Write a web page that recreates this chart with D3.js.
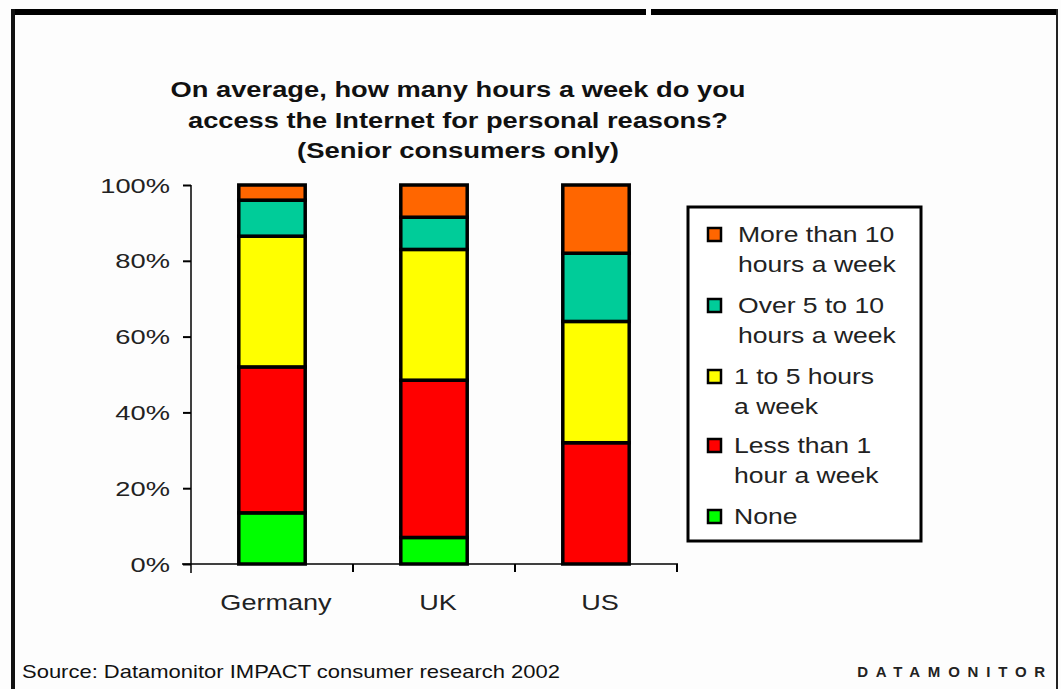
<!DOCTYPE html>
<html>
<head>
<meta charset="utf-8">
<script src="https://cdn.jsdelivr.net/npm/d3@7"></script>
<style>
  html, body { margin: 0; padding: 0; background: #fdfdfd; }
  svg { display: block; font-family: "Liberation Sans", Arial, sans-serif; }
</style>
</head>
<body>
<svg id="chart" width="1061" height="689"></svg>
<script>
const categories = ["Germany", "UK", "US"];
const seriesNames = ["None", "Less than 1 hour a week", "1 to 5 hours a week", "Over 5 to 10 hours a week", "More than 10 hours a week"];
const noneVals = [13.5, 7, 0];
const lessThan1 = [38.5, 41.5, 32];
const oneTo5 = [34.5, 34.5, 32];
const over5to10 = [9.5, 8.5, 18];
const moreThan10 = [4, 8.5, 18];
const seriesColors = ["#00ff00", "#ff0000", "#ffff00", "#00cc99", "#ff6600"];
const yTicks = [0, 20, 40, 60, 80, 100];
const titleLines = ["On average, how many hours a week do you", "access the Internet for personal reasons?", "(Senior consumers only)"];
const titleWidths = [575, 540, 322];
const legendItems = [
  {lines: ["More than 10", "hours a week"], s: 4, dx: 0},
  {lines: ["Over 5 to 10", "hours a week"], s: 3, dx: 0},
  {lines: ["1 to 5 hours", "a week"], s: 2, dx: -4},
  {lines: ["Less than 1", "hour a week"], s: 1, dx: -4},
  {lines: ["None"], s: 0, dx: -4}
];

const seriesValues = [noneVals, lessThan1, oneTo5, over5to10, moreThan10];
const table = categories.map((c, i) => {
  const row = {cat: c};
  seriesNames.forEach((s, j) => row[s] = seriesValues[j][i]);
  return row;
});

const svg = d3.select("#chart");

// helper: horizontally stretched text
function sText(parent, x, y, txt, size, sx, anchor, weight) {
  return parent.append("text")
    .attr("transform", `translate(${x},${y}) scale(${sx},1)`)
    .attr("text-anchor", anchor || "start")
    .attr("font-size", size)
    .attr("font-weight", weight || "normal")
    .attr("fill", "#222")
    .text(txt);
}

// Frame
svg.append("rect").attr("x", 0).attr("y", 0).attr("width", 1061).attr("height", 689).attr("fill", "#fdfdfd");
svg.append("rect").attr("x", 11).attr("y", 9).attr("width", 635).attr("height", 6).attr("fill", "#000");
svg.append("rect").attr("x", 651).attr("y", 9).attr("width", 406).attr("height", 6).attr("fill", "#000");
svg.append("rect").attr("x", 11).attr("y", 9).attr("width", 4).attr("height", 680).attr("fill", "#111");
svg.append("rect").attr("x", 1056).attr("y", 9).attr("width", 2).attr("height", 680).attr("fill", "#222");

// Scales
const x = d3.scaleBand().domain(categories).range([191, 677]).paddingInner(0.59).paddingOuter(0.295);
const y = d3.scaleLinear().domain([0, 100]).range([564, 185]);

// Title
svg.append("g").selectAll("text").data(titleLines).join("text")
  .attr("x", 458).attr("y", (d, i) => 97 + i * 30.5)
  .attr("text-anchor", "middle")
  .attr("font-size", 22.5).attr("font-weight", "bold").attr("fill", "#111")
  .attr("textLength", (d, i) => titleWidths[i]).attr("lengthAdjust", "spacingAndGlyphs")
  .text(d => d);

// Stack
const stack = d3.stack().keys(seriesNames)(table);
const g = svg.append("g");
stack.forEach((layer, li) => {
  g.selectAll(null).data(layer).join("rect")
    .filter(d => d[1] - d[0] > 0)
    .attr("x", d => x(d.data.cat))
    .attr("width", x.bandwidth())
    .attr("y", d => y(d[1]))
    .attr("height", d => y(d[0]) - y(d[1]))
    .attr("fill", seriesColors[li])
    .attr("stroke", "#000")
    .attr("stroke-width", 3.5);
});

// Y axis
const yAxis = svg.append("g").attr("transform", "translate(191,0)")
  .call(d3.axisLeft(y).tickValues(yTicks).tickFormat("").tickSize(8));
yAxis.select(".domain").remove();
yAxis.selectAll(".tick line").attr("stroke", "#000").attr("stroke-width", 2);
const yl = svg.append("g");
yTicks.forEach(t => sText(yl, 170, y(t) + 7.5, t + "%", 21, 1.3, "end"));
svg.append("line").attr("x1", 191).attr("x2", 191).attr("y1", 185).attr("y2", 573).attr("stroke", "#000").attr("stroke-width", 1.5);

// X axis
svg.append("line").attr("x1", 182).attr("x2", 678).attr("y1", 564).attr("y2", 564).attr("stroke", "#000").attr("stroke-width", 1.5);
const step = x.step();
const boundaries = categories.map(c => x(c) + x.bandwidth() + step * x.paddingInner() / 2);
svg.append("g").selectAll("line").data(boundaries).join("line")
  .attr("x1", d => d).attr("x2", d => d).attr("y1", 564).attr("y2", 572)
  .attr("stroke", "#000").attr("stroke-width", 2);
const xl = svg.append("g");
categories.forEach(c => sText(xl, x(c) + x.bandwidth() / 2 + 4, 610, c, 22, 1.23, "middle"));

// Legend
svg.append("rect").attr("x", 688).attr("y", 207).attr("width", 233).attr("height", 334)
  .attr("fill", "#fff").attr("stroke", "#000").attr("stroke-width", 3);
const legTops = [242, 313, 384, 453, 524];
const lg = svg.append("g");
legendItems.forEach((it, i) => {
  const base = legTops[i];
  lg.append("rect").attr("x", 708).attr("y", base - 14).attr("width", 13).attr("height", 13)
    .attr("fill", seriesColors[it.s]).attr("stroke", "#000").attr("stroke-width", 2.5);
  it.lines.forEach((ln, k) => {
    sText(lg, 738 + it.dx, base + k * 29.5, ln, 22.5, 1.18, "start");
  });
});

// Footer
svg.append("text").attr("x", 22).attr("y", 678).attr("font-size", 19).attr("fill", "#111")
  .attr("textLength", 538).attr("lengthAdjust", "spacingAndGlyphs")
  .text("Source: Datamonitor IMPACT consumer research 2002");
svg.append("text").attr("x", 1053).attr("y", 677).attr("text-anchor", "end")
  .attr("font-size", 15).attr("font-weight", "bold").attr("fill", "#222").attr("letter-spacing", 7.8)
  .text("DATAMONITOR");
</script>
</body>
</html>
